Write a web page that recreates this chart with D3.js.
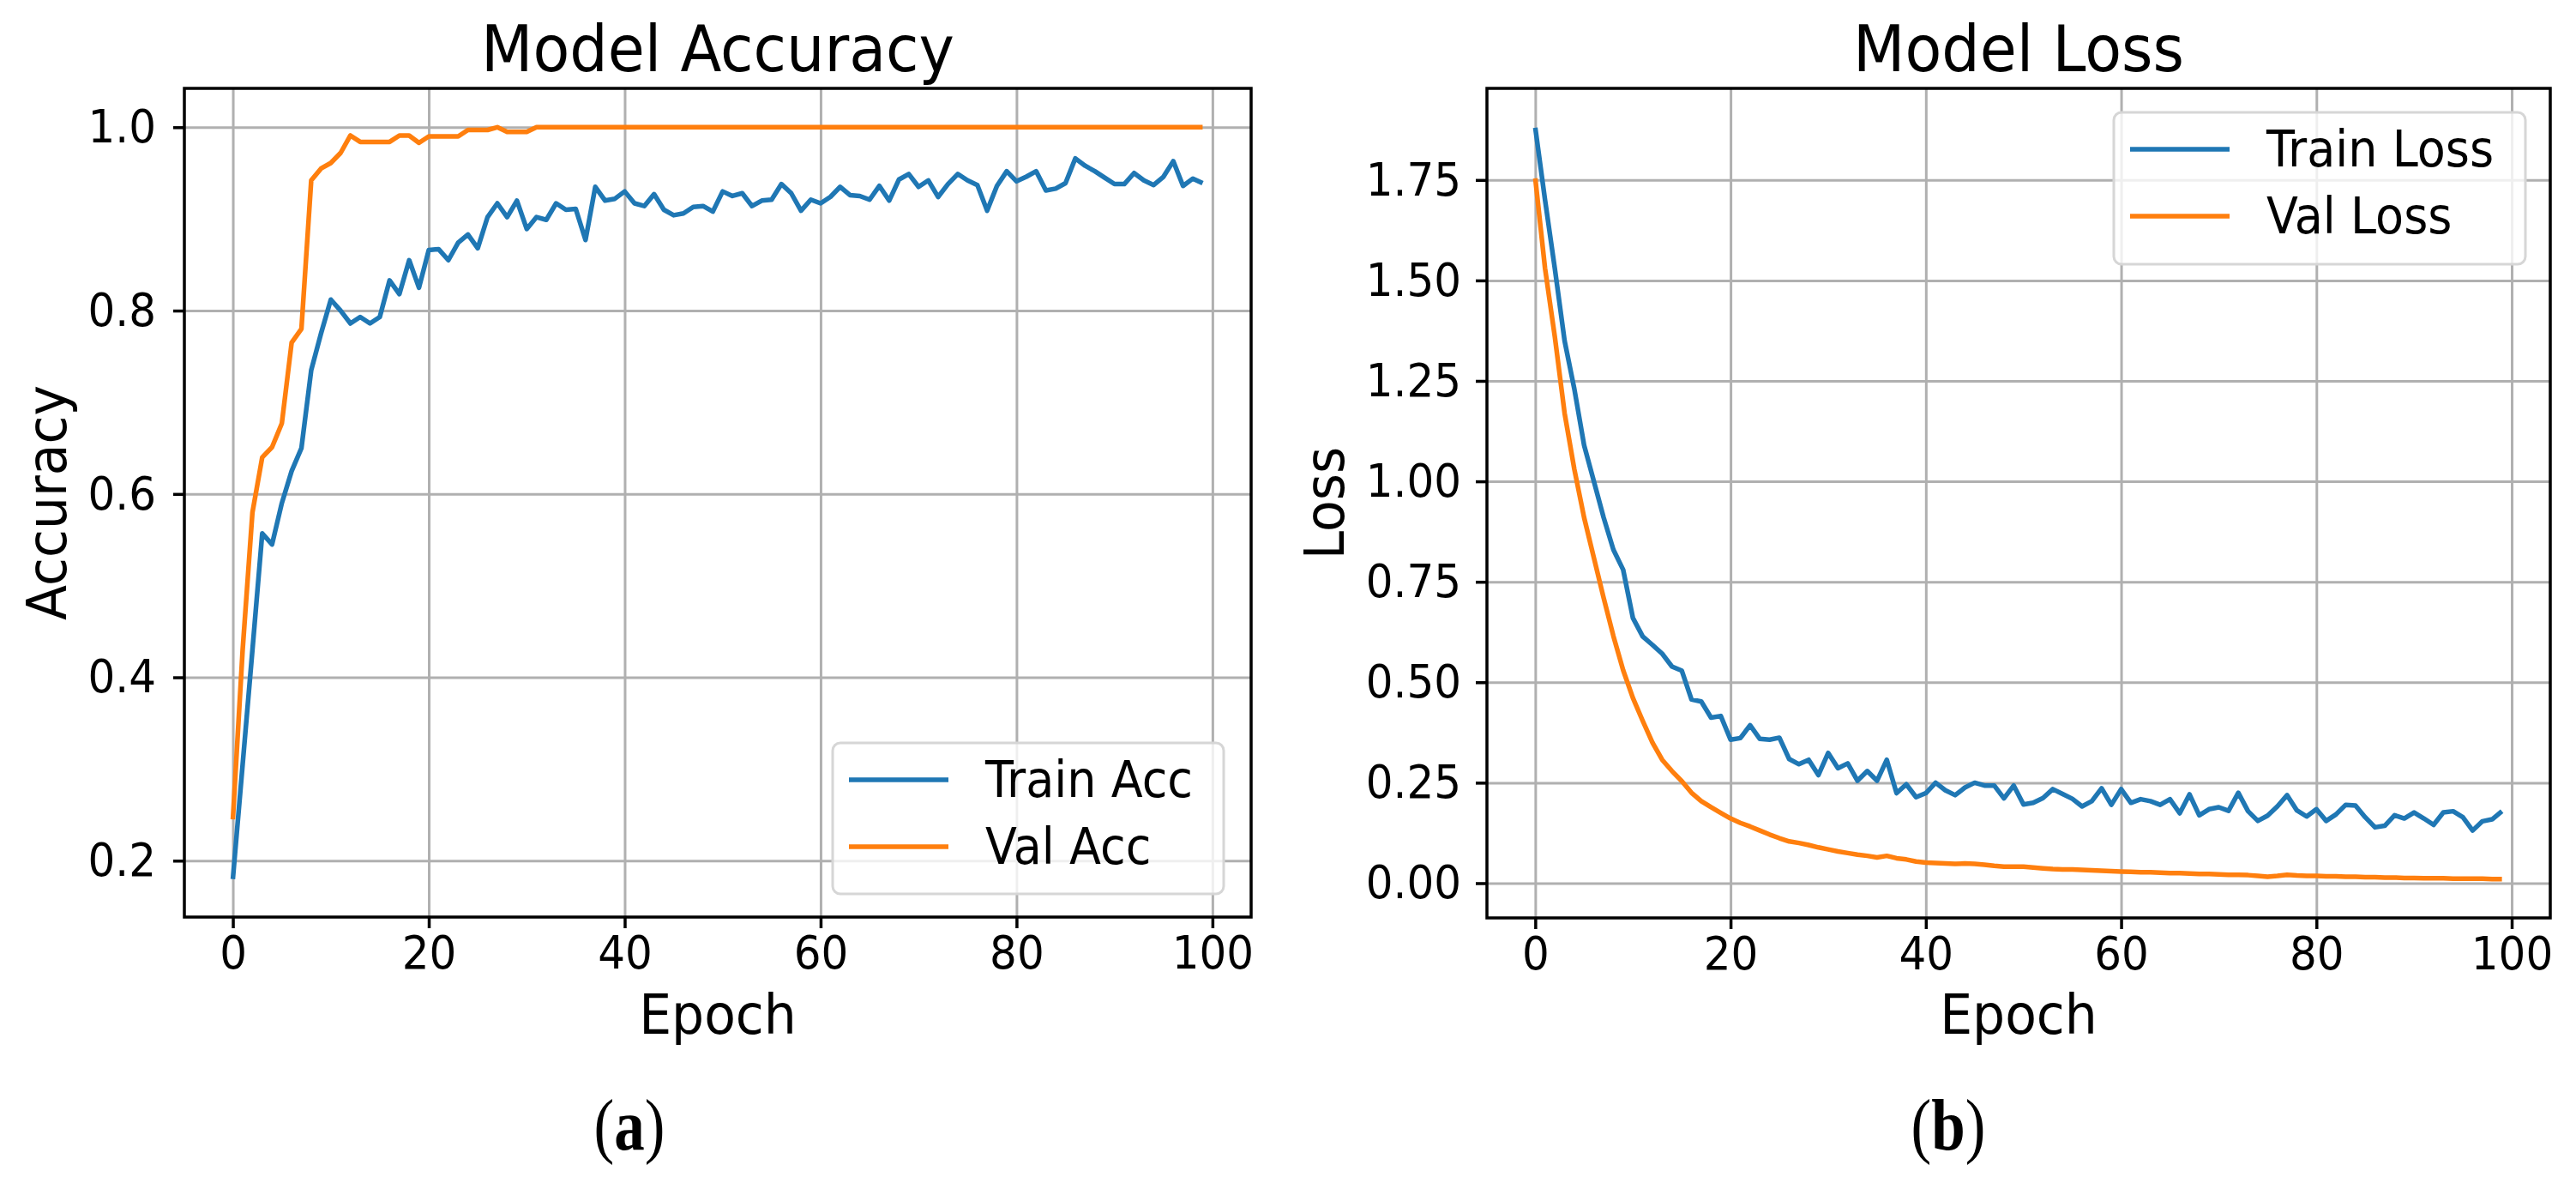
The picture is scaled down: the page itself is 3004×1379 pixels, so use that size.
<!DOCTYPE html>
<html lang="en">
<head>
<meta charset="UTF-8">
<title>Model Accuracy / Model Loss</title>
<style>
  body { margin: 0; background: #fff; }
  svg text { font-family: "DejaVu Sans", sans-serif; fill: #000; }
</style>
</head>
<body>
<div class="canvas"></div>
<script src="https://cdnjs.cloudflare.com/ajax/libs/d3/7.8.5/d3.min.js"></script>
<script>
// values, one per epoch (0..99)
const trainAcc = [
  0.180, 0.305, 0.430, 0.557, 0.545, 0.590, 0.625, 0.650, 0.735, 0.775,
  0.812, 0.800, 0.786, 0.793, 0.786, 0.793, 0.833, 0.818, 0.855, 0.825,
  0.866, 0.867, 0.855, 0.874, 0.883, 0.868, 0.902, 0.917, 0.902, 0.920,
  0.889, 0.902, 0.899, 0.917, 0.910, 0.911, 0.877, 0.935, 0.920, 0.922,
  0.930, 0.917, 0.914, 0.927, 0.910, 0.904, 0.906, 0.913, 0.914, 0.908,
  0.930, 0.925, 0.928, 0.914, 0.920, 0.921, 0.938, 0.928, 0.909, 0.921,
  0.917, 0.924, 0.935, 0.926, 0.925, 0.921, 0.936, 0.920, 0.943, 0.949,
  0.935, 0.942, 0.924, 0.938, 0.949, 0.942, 0.937, 0.909, 0.936, 0.952,
  0.941, 0.946, 0.952, 0.931, 0.933, 0.939, 0.966, 0.958, 0.952, 0.945,
  0.938, 0.938, 0.950, 0.942, 0.937, 0.946, 0.963, 0.936, 0.944, 0.939
];
const valAcc = [
  0.245, 0.430, 0.580, 0.640, 0.651, 0.677, 0.765, 0.780, 0.942, 0.955,
  0.961, 0.972, 0.991, 0.984, 0.984, 0.984, 0.984, 0.991, 0.991, 0.983,
  0.990, 0.990, 0.990, 0.990, 0.997, 0.997, 0.997, 1.000, 0.995, 0.995,
  0.995, 1.000, 1.000, 1.000, 1.000, 1.000, 1.000, 1.000, 1.000, 1.000,
  1.000, 1.000, 1.000, 1.000, 1.000, 1.000, 1.000, 1.000, 1.000, 1.000,
  1.000, 1.000, 1.000, 1.000, 1.000, 1.000, 1.000, 1.000, 1.000, 1.000,
  1.000, 1.000, 1.000, 1.000, 1.000, 1.000, 1.000, 1.000, 1.000, 1.000,
  1.000, 1.000, 1.000, 1.000, 1.000, 1.000, 1.000, 1.000, 1.000, 1.000,
  1.000, 1.000, 1.000, 1.000, 1.000, 1.000, 1.000, 1.000, 1.000, 1.000,
  1.000, 1.000, 1.000, 1.000, 1.000, 1.000, 1.000, 1.000, 1.000, 1.000
];
const trainLoss = [
  1.880, 1.700, 1.530, 1.350, 1.230, 1.090, 1.000, 0.910, 0.830, 0.780,
  0.660, 0.614, 0.593, 0.571, 0.539, 0.529, 0.457, 0.452, 0.412, 0.416,
  0.357, 0.361, 0.393, 0.359, 0.357, 0.362, 0.309, 0.296, 0.307, 0.269,
  0.324, 0.286, 0.298, 0.255, 0.279, 0.255, 0.307, 0.224, 0.246, 0.214,
  0.224, 0.250, 0.231, 0.219, 0.238, 0.250, 0.243, 0.243, 0.211, 0.243,
  0.196, 0.200, 0.212, 0.234, 0.222, 0.210, 0.191, 0.204, 0.236, 0.195,
  0.234, 0.200, 0.209, 0.204, 0.195, 0.209, 0.174, 0.221, 0.169, 0.184,
  0.189, 0.180, 0.225, 0.179, 0.155, 0.168, 0.191, 0.219, 0.181, 0.166,
  0.184, 0.155, 0.171, 0.195, 0.193, 0.164, 0.139, 0.143, 0.169, 0.161,
  0.176, 0.161, 0.145, 0.176, 0.179, 0.164, 0.131, 0.154, 0.159, 0.179
];
const valLoss = [
  1.754, 1.530, 1.360, 1.170, 1.030, 0.910, 0.810, 0.710, 0.615, 0.530,
  0.461, 0.404, 0.350, 0.307, 0.279, 0.254, 0.225, 0.204, 0.189, 0.175,
  0.161, 0.150, 0.141, 0.131, 0.121, 0.112, 0.104, 0.100, 0.095, 0.089,
  0.084, 0.079, 0.075, 0.071, 0.068, 0.064, 0.068, 0.062, 0.059, 0.054,
  0.051, 0.050, 0.049, 0.048, 0.049, 0.048, 0.046, 0.043, 0.041, 0.041,
  0.041, 0.039, 0.037, 0.035, 0.034, 0.034, 0.033, 0.032, 0.031, 0.030,
  0.029, 0.028, 0.027, 0.027, 0.026, 0.025, 0.025, 0.024, 0.023, 0.023,
  0.022, 0.021, 0.021, 0.020, 0.018, 0.016, 0.018, 0.021, 0.019, 0.018,
  0.018, 0.017, 0.017, 0.016, 0.016, 0.015, 0.015, 0.014, 0.014, 0.013,
  0.013, 0.012, 0.012, 0.012, 0.011, 0.011, 0.011, 0.011, 0.010, 0.010
];

const epochTicks = [0, 20, 40, 60, 80, 100];
const accTicks = [0.2, 0.4, 0.6, 0.8, 1.0];
const lossTicks = [0.00, 0.25, 0.50, 0.75, 1.00, 1.25, 1.50, 1.75];
const accNames = ["Train Acc", "Val Acc"];
const lossNames = ["Train Loss", "Val Loss"];
const colors = ["#1f77b4", "#ff7f0e"];

// glyphs in the source image are a bit taller than they are wide
const stretch = 1.08;

const svg = d3.select(".canvas").append("svg")
  .attr("width", 3004)
  .attr("height", 1379);

function label(g, x, y, size, str, k = stretch, rot = 0) {
  return g.append("text")
    .attr("transform", `translate(${x}, ${y}) rotate(${rot}) scale(1, ${k})`)
    .attr("text-anchor", "middle")
    .attr("font-size", size)
    .text(str);
}

function drawPanel(p) {
  const x = d3.scaleLinear().domain([-4.95, 103.95]).range([p.left, p.right]);
  const y = d3.scaleLinear().domain(p.yDomain).range([p.bottom, p.top]);
  const g = svg.append("g");

  // grid
  g.append("g")
    .attr("transform", `translate(0, ${p.bottom})`)
    .call(d3.axisBottom(x).tickValues(epochTicks).tickSize(-(p.bottom - p.top)).tickFormat(""))
    .call(a => a.select(".domain").remove())
    .selectAll("line").attr("stroke", "#b0b0b0").attr("stroke-width", 3);
  g.append("g")
    .attr("transform", `translate(${p.left}, 0)`)
    .call(d3.axisLeft(y).tickValues(p.yTicks).tickSize(-(p.right - p.left)).tickFormat(""))
    .call(a => a.select(".domain").remove())
    .selectAll("line").attr("stroke", "#b0b0b0").attr("stroke-width", 3);

  // series
  const line = d3.line().x((d, i) => x(i)).y(d => y(d));
  p.series.forEach((s, k) => {
    g.append("path")
      .datum(s)
      .attr("fill", "none")
      .attr("stroke", colors[k])
      .attr("stroke-width", 5.5)
      .attr("stroke-linejoin", "round")
      .attr("d", line);
  });

  // axes
  const xAxis = g.append("g")
    .attr("transform", `translate(0, ${p.bottom})`)
    .call(d3.axisBottom(x).tickValues(epochTicks).tickSize(13).tickPadding(9).tickSizeOuter(0));
  const yAxis = g.append("g")
    .attr("transform", `translate(${p.left}, 0)`)
    .call(d3.axisLeft(y).tickValues(p.yTicks).tickFormat(d3.format(p.yFormat)).tickSize(13).tickPadding(p.yPad).tickSizeOuter(0));
  [xAxis, yAxis].forEach(a => {
    a.select(".domain").remove();
    a.selectAll("line").attr("stroke", "#000").attr("stroke-width", 3.5);
    a.selectAll("text")
      .attr("font-size", 50).attr("font-family", "DejaVu Sans").attr("fill", "#000")
      .attr("transform", `scale(1, ${stretch})`);
  });
  xAxis.selectAll("text").attr("y", 22 / stretch);

  // frame
  g.append("rect")
    .attr("x", p.left).attr("y", p.top)
    .attr("width", p.right - p.left).attr("height", p.bottom - p.top)
    .attr("fill", "none").attr("stroke", "#000").attr("stroke-width", 3.5);

  // titles
  const cx = (p.left + p.right) / 2;
  label(g, cx, 83, 70, p.title);
  label(g, cx, 1205, 60, "Epoch");
  label(g, p.yLabelX, (p.top + p.bottom) / 2, 60, p.yLabel, stretch, -90);

  // legend
  const lg = g.append("g").attr("transform", `translate(${p.legend.x}, ${p.legend.y})`);
  lg.append("rect")
    .attr("width", p.legend.w).attr("height", p.legend.h)
    .attr("rx", 9)
    .attr("fill", "#fff").attr("fill-opacity", 0.8)
    .attr("stroke", "#d6d6d6").attr("stroke-width", 3);
  p.names.forEach((name, k) => {
    const ry = 43 + k * 78;
    lg.append("line")
      .attr("x1", 19).attr("x2", 135).attr("y1", ry).attr("y2", ry)
      .attr("stroke", colors[k]).attr("stroke-width", 5.5);
    label(lg, 178, ry + 20, 54, name).attr("text-anchor", "start");
  });

  // caption
  const cap = label(g, p.captionX, 1340, 71, null, 1.18)
    .style("font-family", "'Liberation Serif', serif");
  cap.append("tspan").text("(");
  cap.append("tspan").attr("font-weight", "bold").text(p.caption);
  cap.append("tspan").text(")");
}

drawPanel({
  left: 215, right: 1459, top: 103, bottom: 1069,
  yDomain: [0.1385, 1.0424], yTicks: accTicks, yFormat: ".1f", yPad: 20,
  title: "Model Accuracy", yLabel: "Accuracy", yLabelX: 77,
  series: [trainAcc, valAcc], names: accNames,
  legend: { x: 971, y: 866, w: 456, h: 176 },
  caption: "a", captionX: 734
});

drawPanel({
  left: 1734, right: 2974, top: 103, bottom: 1070,
  yDomain: [-0.0865, 1.978], yTicks: lossTicks, yFormat: ".2f", yPad: 17,
  title: "Model Loss", yLabel: "Loss", yLabelX: 1567,
  series: [trainLoss, valLoss], names: lossNames,
  legend: { x: 2465, y: 131, w: 480, h: 177 },
  caption: "b", captionX: 2272
});
</script>
</body>
</html>
